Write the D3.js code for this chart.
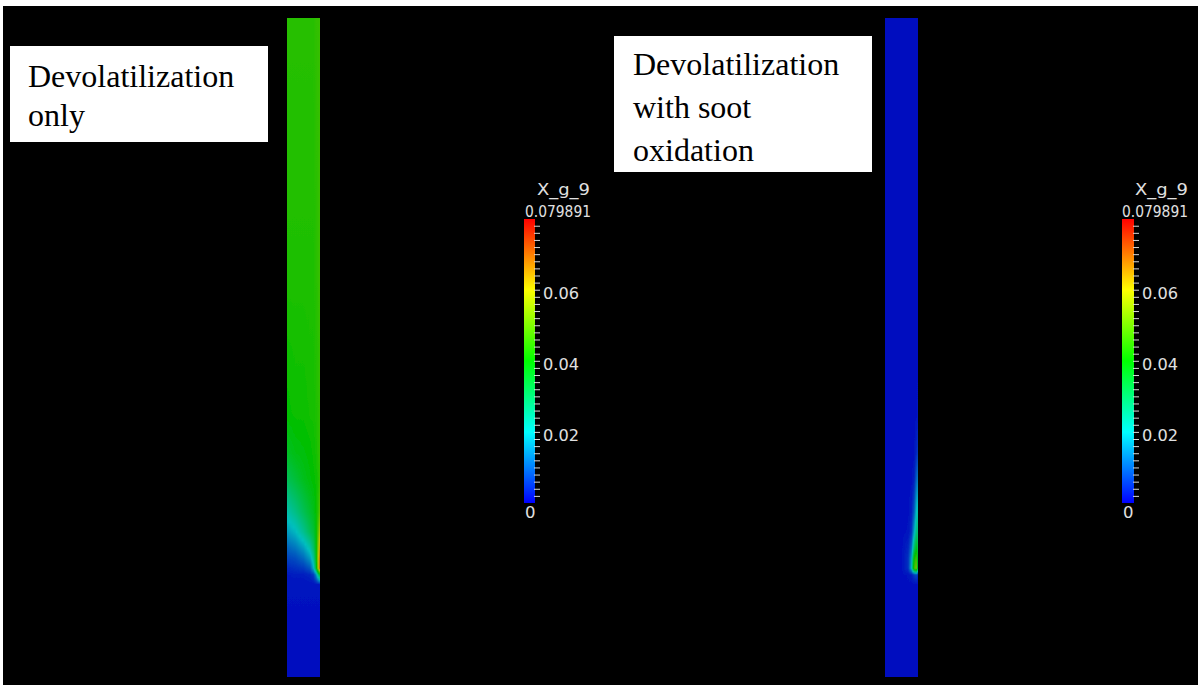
<!DOCTYPE html>
<html>
<head>
<meta charset="utf-8">
<title>X_g_9</title>
<script src="https://d3js.org/d3.v7.min.js"></script>
<style>
  body { margin: 0; background: #fff; }
  svg { display: block; }
</style>
</head>
<body>
<div id="chart"></div>
<script>
// ---- data ..........................................................
// heights along the column (0 = bottom, 100 = top) and positions across it (0 = left wall, 1 = right wall)
var zLevels = [0, 14, 15.5, 16.5, 18, 19.5, 22, 25, 30, 34, 40, 60, 100];
var rLevels = [0, 0.25, 0.5, 0.7, 0.8, 0.88, 0.95, 1];

// X_g_9 (one row per rLevel, values along zLevels)
var devolOnly = [
  [0.001, 0.002, 0.0025, 0.004, 0.007, 0.010, 0.016, 0.022, 0.031, 0.036, 0.040, 0.043, 0.044],
  [0.001, 0.002, 0.003, 0.005, 0.008, 0.012, 0.019, 0.026, 0.034, 0.038, 0.041, 0.043, 0.044],
  [0.001, 0.002, 0.003, 0.006, 0.011, 0.016, 0.025, 0.031, 0.037, 0.039, 0.041, 0.043, 0.044],
  [0.001, 0.002, 0.004, 0.009, 0.016, 0.022, 0.031, 0.035, 0.039, 0.040, 0.042, 0.043, 0.044],
  [0.001, 0.002, 0.006, 0.018, 0.024, 0.029, 0.034, 0.037, 0.040, 0.041, 0.042, 0.043, 0.044],
  [0.001, 0.002, 0.014, 0.034, 0.037, 0.038, 0.039, 0.040, 0.041, 0.042, 0.043, 0.044, 0.045],
  [0.001, 0.002, 0.028, 0.060, 0.060, 0.056, 0.050, 0.045, 0.043, 0.044, 0.044, 0.045, 0.045],
  [0.001, 0.002, 0.036, 0.072, 0.070, 0.066, 0.059, 0.050, 0.045, 0.045, 0.045, 0.046, 0.046]
];

// X_g_9
var devolSoot = [
  [0.0015, 0.0015, 0.0015, 0.0015, 0.0015, 0.0015, 0.0015, 0.0015, 0.0015, 0.0015, 0.0015, 0.0015, 0.0015],
  [0.0015, 0.0015, 0.0015, 0.0015, 0.0015, 0.0015, 0.0015, 0.0015, 0.0015, 0.0015, 0.0015, 0.0015, 0.0015],
  [0.0015, 0.0015, 0.0015, 0.0015, 0.0015, 0.0015, 0.0015, 0.0015, 0.0015, 0.0015, 0.0015, 0.0015, 0.0015],
  [0.0015, 0.0015, 0.002, 0.005, 0.005, 0.004, 0.002, 0.0015, 0.0015, 0.0015, 0.0015, 0.0015, 0.0015],
  [0.0015, 0.0015, 0.003, 0.018, 0.016, 0.011, 0.005, 0.003, 0.0015, 0.0015, 0.0015, 0.0015, 0.0015],
  [0.0015, 0.0015, 0.006, 0.045, 0.040, 0.029, 0.017, 0.009, 0.003, 0.0015, 0.0015, 0.0015, 0.0015],
  [0.0015, 0.0015, 0.008, 0.052, 0.047, 0.038, 0.027, 0.020, 0.010, 0.004, 0.0015, 0.0015, 0.0015],
  [0.0015, 0.0015, 0.004, 0.032, 0.034, 0.032, 0.027, 0.022, 0.013, 0.006, 0.002, 0.0015, 0.0015]
];

var fieldName = 'X_g_9';
var barMin = 0;
var barMax = 0.079891;
var barLabels = [0.02, 0.04, 0.06];
var captionOnly = ['Devolatilization', 'only'];
var captionSoot = ['Devolatilization', 'with soot', 'oxidation'];

// ---- setup .........................................................
var W = 1201, H = 687;
var svg = d3.select('#chart').append('svg')
  .attr('width', W)
  .attr('height', H);
var defs = svg.append('defs');

svg.append('rect')
  .attr('x', 3).attr('y', 6)
  .attr('width', 1195).attr('height', 679)
  .attr('fill', '#000');

// blue -> red rainbow (hsv)
var hue = d3.scaleLinear().domain([barMin, barMax]).range([240, 0]).clamp(true);
function rainbow(v) { return d3.hsl(hue(v), 1, 0.5).rgb(); }
function shaded(v) {
  var c = rainbow(v);
  return d3.rgb(c.r * 0.75, c.g * 0.75, c.b * 0.75).formatHex();
}

function fieldAt(field, r, z) {
  var i = Math.max(1, Math.min(rLevels.length - 1, d3.bisectRight(rLevels, r)));
  var j = Math.max(1, Math.min(zLevels.length - 1, d3.bisectRight(zLevels, z)));
  var tr = (r - rLevels[i - 1]) / (rLevels[i] - rLevels[i - 1]);
  var tz = (z - zLevels[j - 1]) / (zLevels[j] - zLevels[j - 1]);
  var a = field[i - 1][j - 1] * (1 - tz) + field[i - 1][j] * tz;
  var b = field[i][j - 1] * (1 - tz) + field[i][j] * tz;
  return a * (1 - tr) + b * tr;
}

// stop heights for the gradients (data levels plus a few sub steps so hue stays rainbow-like)
var zStops = [];
zLevels.forEach(function(z, j) {
  if (j > 0) {
    for (var k = 1; k < 4; k++) zStops.push(zLevels[j - 1] + (z - zLevels[j - 1]) * k / 4);
  }
  zStops.push(z);
});

var yCol = d3.scaleLinear().domain([0, 100]).range([677, 18]);

defs.append('filter').attr('id', 'soft')
  .attr('x', '-10%').attr('y', '-1%').attr('width', '120%').attr('height', '102%')
  .append('feGaussianBlur').attr('stdDeviation', 0.6);

//column..............................
function drawColumn(id, x0, x1, field) {
  var xr = d3.scaleLinear().domain([0, 1]).range([x0, x1]);
  var g = svg.append('g').attr('filter', 'url(#soft)');
  for (var x = x0; x < x1; x++) {
    var r = xr.invert(x + 0.5);
    var grad = defs.append('linearGradient')
      .attr('id', id + '-' + x)
      .attr('gradientUnits', 'userSpaceOnUse')
      .attr('x1', 0).attr('x2', 0)
      .attr('y1', yCol(100)).attr('y2', yCol(0));
    grad.selectAll('stop')
      .data(zStops.slice().reverse())
      .enter().append('stop')
      .attr('offset', function(z) { return (yCol(z) - yCol(100)) / (yCol(0) - yCol(100)); })
      .attr('stop-color', function(z) { return shaded(fieldAt(field, r, z)); });
    g.append('rect')
      .attr('x', x).attr('y', yCol(100))
      .attr('width', 1.02).attr('height', yCol(0) - yCol(100))
      .attr('shape-rendering', 'crispEdges')
      .attr('fill', 'url(#' + id + '-' + x + ')');
  }
}

//scalar bar..........................
var yBar = d3.scaleLinear().domain([barMin, barMax]).range([503, 219]);
var barGrad = defs.append('linearGradient')
  .attr('id', 'bargrad')
  .attr('gradientUnits', 'userSpaceOnUse')
  .attr('x1', 0).attr('x2', 0)
  .attr('y1', yBar(barMin)).attr('y2', yBar(barMax));
barGrad.selectAll('stop')
  .data(d3.range(0, 25))
  .enter().append('stop')
  .attr('offset', function(k) { return k / 24; })
  .attr('stop-color', function(k) { return rainbow(barMin + (barMax - barMin) * k / 24).formatHex(); });

function drawBar(bx, bw, titleX, maxX, labX, zeroX) {
  var g = svg.append('g');
  g.append('rect')
    .attr('x', bx).attr('y', yBar(barMax))
    .attr('width', bw).attr('height', yBar(barMin) - yBar(barMax))
    .attr('fill', 'url(#bargrad)');

  var axis = d3.axisRight(yBar)
    .tickValues(d3.range(0.002, barMax, 0.002))
    .tickSize(6)
    .tickFormat('');
  var ag = g.append('g')
    .attr('transform', 'translate(' + (bx + bw - 1) + ',0)')
    .call(axis);
  ag.select('.domain').remove();
  ag.selectAll('line').attr('stroke', '#d8d8d8').attr('stroke-width', 1);

  var txt = g.append('g')
    .attr('font-family', '"DejaVu Sans", sans-serif')
    .attr('font-size', 16.5)
    .attr('fill', '#e0e0e0');
  txt.append('text').attr('x', titleX).attr('y', 195)
    .attr('textLength', 53).attr('lengthAdjust', 'spacingAndGlyphs')
    .text(fieldName);
  txt.append('text').attr('x', maxX).attr('y', 217)
    .attr('textLength', 66).attr('lengthAdjust', 'spacingAndGlyphs')
    .text(d3.format('.6f')(barMax));
  txt.selectAll('.lab')
    .data(barLabels)
    .enter().append('text')
    .attr('class', 'lab')
    .attr('x', labX)
    .attr('y', function(d) { return yBar(d) + 9; })
    .attr('textLength', 36).attr('lengthAdjust', 'spacingAndGlyphs')
    .text(function(d) { return d3.format('.2f')(d); });
  txt.append('text').attr('x', zeroX).attr('y', 518).text(String(barMin));
}

//caption boxes.......................
function drawCaption(lines, bx, by, bw, bh, tx, ty, dy) {
  var g = svg.append('g');
  g.append('rect')
    .attr('x', bx).attr('y', by)
    .attr('width', bw).attr('height', bh)
    .attr('fill', '#fff');
  g.selectAll('text')
    .data(lines)
    .enter().append('text')
    .attr('x', tx)
    .attr('y', function(d, i) { return ty + i * dy; })
    .attr('font-family', '"Liberation Serif", "Times New Roman", serif')
    .attr('font-size', 32)
    .attr('fill', '#000')
    .text(function(d) { return d; });
}

drawColumn('only', 287, 320, devolOnly);
drawColumn('soot', 885, 918, devolSoot);
drawBar(524, 11, 537, 525, 543, 525);
drawBar(1122, 12, 1135, 1122, 1142, 1123);
drawCaption(captionOnly, 10, 46, 258, 96, 28, 87, 39);
drawCaption(captionSoot, 614, 36, 258, 136, 633, 75, 43);
</script>
</body>
</html>
